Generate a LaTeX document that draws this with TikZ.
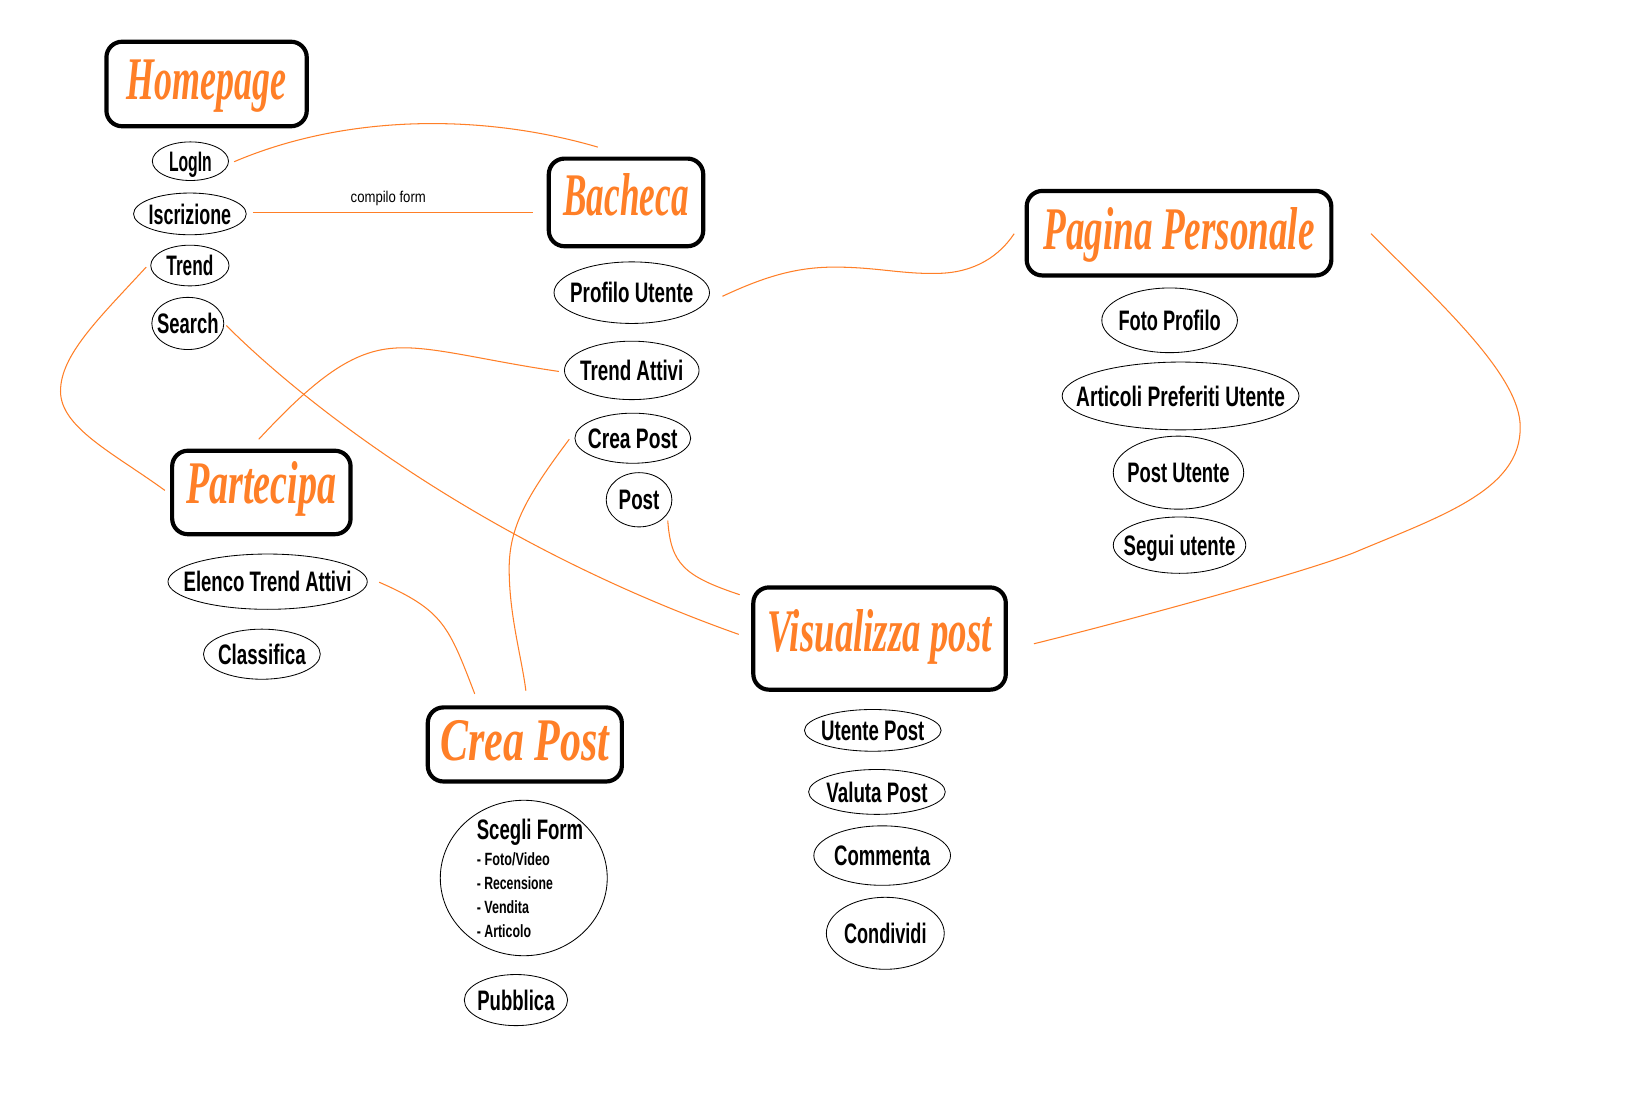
\documentclass[tikz,border=0pt]{standalone}
\usepackage{fontspec}
\usepackage{graphicx}
\usetikzlibrary{shapes.geometric}
\newfontfamily\lblfont{Liberation Sans}
\newfontfamily\ttlfont{Liberation Serif}
\definecolor{paintorange}{RGB}{255,127,39}
\newcommand\fw[2]{\resizebox{#1pt}{\height}{#2}}
\newcommand\lb[2]{\makebox[0pt]{\resizebox{#1pt}{\height}{#2}}}
\begin{document}
\begin{tikzpicture}[x=1pt,y=-1pt,
  bigbox/.style={draw=black, line width=4pt, rounded corners=15pt, inner sep=0pt, text=paintorange,
    font=\ttlfont\bfseries\itshape\fontsize{58}{60}\selectfont, text height=38pt},
  oval/.style={ellipse, draw=black, line width=0.8pt, inner sep=0pt,
    font=\lblfont\bfseries\fontsize{27}{30}\selectfont, text height=19.5pt, text depth=0pt},
  formoval/.style={ellipse, draw=black, line width=0.8pt, inner xsep=0pt, inner ysep=-30pt, align=left,
    font=\lblfont\bfseries\fontsize{17}{23}\selectfont},
  conn/.style={draw=paintorange, line width=1pt},
  smalllbl/.style={font=\lblfont\fontsize{15}{18}\selectfont, text height=11pt, text depth=0pt, inner sep=0pt}
]
\fill[white] (0,0) rectangle (1568,1070);
\useasboundingbox (0,0) rectangle (1568,1070);

% main boxes
\node[bigbox, minimum width=192pt, minimum height=81pt, text depth=8pt] (home) at (198,80.5) {\fw{153}{Homepage}};
\node[bigbox, minimum width=148pt, minimum height=84pt, text depth=13pt] (bach) at (600,194) {\fw{120}{Bacheca}};
\node[bigbox, minimum width=292pt, minimum height=81pt, text depth=7pt] (pagina) at (1130,223.5) {\fw{260}{Pagina Personale}};
\node[bigbox, minimum width=171pt, minimum height=80pt, text depth=16pt] (part) at (250.5,472) {\fw{144}{Partecipa}};
\node[bigbox, minimum width=186pt, minimum height=71pt, text depth=7pt] (creabig) at (503,713.5) {\fw{162}{Crea Post}};
\node[bigbox, minimum width=242pt, minimum height=98pt, text depth=14pt] (vis) at (843,612) {\fw{215}{Visualizza post}};

% ovals
\node[oval, minimum width=73pt, minimum height=37pt] (login) at (182.5,154.5) {\lb{41}{LogIn}};
\node[oval, minimum width=108pt, minimum height=40pt] (iscr) at (182,205) {\lb{79}{Iscrizione}};
\node[oval, minimum width=75pt, minimum height=39pt] (trend) at (182,254.5) {\lb{45}{Trend}};
\node[oval, minimum width=69pt, minimum height=50pt] (search) at (180,310) {\lb{59}{Search}};

\node[oval, minimum width=149pt, minimum height=59pt] (profilo) at (605.5,280.5) {\lb{118}{Profilo Utente}};
\node[oval, minimum width=129pt, minimum height=56pt] (trattivi) at (605.5,355) {\lb{99}{Trend Attivi}};
\node[oval, minimum width=111pt, minimum height=48pt] (creasmall) at (606.5,420) {\lb{86}{Crea Post}};
\node[oval, minimum width=63pt, minimum height=52pt] (post) at (612.5,479) {\lb{39}{Post}};

\node[oval, minimum width=130pt, minimum height=62pt] (foto) at (1121,307) {\lb{98}{Foto Profilo}};
\node[oval, minimum width=227pt, minimum height=65pt] (artic) at (1131.5,379.5) {\lb{200}{Articoli Preferiti Utente}};
\node[oval, minimum width=125pt, minimum height=70pt] (postut) at (1129.5,453) {\lb{98}{Post Utente}};
\node[oval, minimum width=127pt, minimum height=54pt] (segui) at (1130.5,522.5) {\lb{107}{Segui utente}};

\node[oval, minimum width=191pt, minimum height=53pt] (elenco) at (256.5,557.5) {\lb{161}{Elenco Trend Attivi}};
\node[oval, minimum width=112pt, minimum height=48pt] (classif) at (251,627) {\lb{84}{Classifica}};

\node[formoval, minimum width=160pt, minimum height=149pt] (scegli) at (502,841.5)
  {{\fontsize{27}{27}\selectfont\makebox[90pt][l]{\fw{102}{Scegli Form}}}\\[2pt]
   \fw{70}{- Foto/Video}\\
   \fw{73}{- Recensione}\\
   \fw{50}{- Vendita}\\
   \fw{52}{- Articolo}};
\node[oval, minimum width=99pt, minimum height=49pt] (pubbl) at (494.5,958.5) {\lb{74}{Pubblica}};

\node[oval, minimum width=131pt, minimum height=40pt] (utente) at (836.5,700) {\lb{99}{Utente Post}};
\node[oval, minimum width=131pt, minimum height=43pt] (valuta) at (840.5,759) {\lb{97}{Valuta Post}};
\node[oval, minimum width=131pt, minimum height=57pt] (commenta) at (845.5,820) {\lb{92}{Commenta}};
\node[oval, minimum width=113pt, minimum height=69pt] (condividi) at (848.5,894.5) {\lb{79}{Condividi}};

% connectors
\draw[conn] ([shift={(5,0.5)}]login.east) .. controls (330,110) and (460,108) .. ([shift={(-27,-9)}]bach.north);
\draw[conn] ([shift={(6,-1)}]iscr.east) -- node[smalllbl, pos=0.483, yshift=15pt] {\fw{72}{compilo form}} ([shift={(-13,10)}]bach.west);
\draw[conn] ([shift={(-4,1.5)}]trend.west) .. controls (95,305) and (58,340) .. (58,375)
   .. controls (58,410) and (110,435) .. ([shift={(-5,-2)}]part.west);
\draw[conn] ([shift={(2,2)}]search.east) .. controls (290,385) and (460,520) .. ([shift={(-12,-4)}]vis.west);
\draw[conn] ([shift={(-5,1)}]trattivi.west) .. controls (460,345) and (410,330) .. (374,334)
   .. controls (335,338) and (300,365) .. ([shift={(-2.5,-9)}]part.north);
\draw[conn] ([shift={(12,3.5)}]profilo.east) .. controls (735,264) and (765,256) .. (800,256)
   .. controls (840,256) and (865,263) .. (900,262)
   .. controls (935,261) and (958,245) .. ([shift={(-10,0.5)}]pagina.west);
\draw[conn] ([shift={(-5,1)}]creasmall.west) .. controls (505,475) and (488,505) .. (488,545)
   .. controls (488,590) and (500,630) .. ([shift={(1,-14)}]creabig.north);
\draw[conn] ([shift={(27.5,20)}]post.center) .. controls (643,540) and (655,552) .. ([shift={(-11,-42)}]vis.west);
\draw[conn] ([shift={(11,0.5)}]elenco.east) .. controls (425,585) and (430,600) .. ([shift={(-48,-11)}]creabig.north);
\draw[conn] ([shift={(36,0.5)}]pagina.east) .. controls (1380,290) and (1457,360) .. (1457,409)
   .. controls (1458,470) and (1380,495) .. (1297,530)
   .. controls (1240,552) and (1060,600) .. ([shift={(25,5)}]vis.east);
\end{tikzpicture}
\end{document}
